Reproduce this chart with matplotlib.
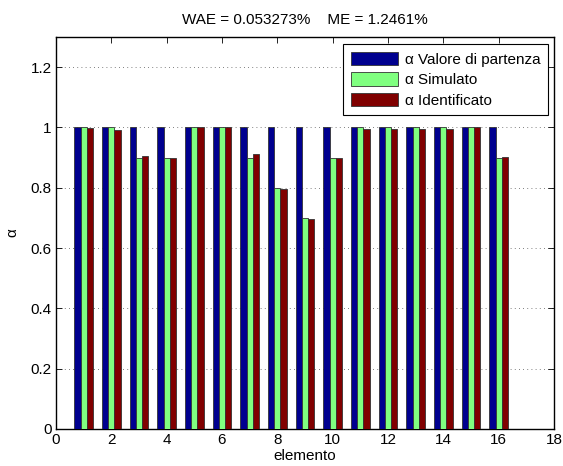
import numpy as np
import matplotlib
matplotlib.use('Agg')
import matplotlib.pyplot as plt

plt.rcParams['font.family'] = ['Liberation Sans', 'DejaVu Sans']
plt.rcParams['font.size'] = 11

# element index and alpha values for each series
elementi = np.arange(1, 17)
alpha_partenza = [1.0, 1.0, 1.0, 1.0, 1.0, 1.0, 1.0, 1.0,
                  1.0, 1.0, 1.0, 1.0, 1.0, 1.0, 1.0, 1.0]
alpha_simulato = [1.0, 1.0, 0.9, 0.9, 1.0, 1.0, 0.9, 0.8,
                  0.7, 0.9, 1.0, 1.0, 1.0, 1.0, 1.0, 0.9]
alpha_identificato = [0.997, 0.991, 0.907, 0.900, 1.0, 1.0, 0.912, 0.797,
                      0.695, 0.898, 0.994, 0.994, 0.995, 0.994, 1.0, 0.903]

serie = [
    (alpha_partenza, '#00008F', 'α Valore di partenza'),
    (alpha_simulato, '#80FF80', 'α Simulato'),
    (alpha_identificato, '#800000', 'α Identificato'),
]

fig = plt.figure(figsize=(5.63, 4.66), dpi=100)
ax = fig.add_axes([56 / 563, 1 - 429 / 466, (554 - 56) / 563, (429 - 37) / 466])

w = 0.222
for i, (vals, col, lab) in enumerate(serie):
    ax.bar(elementi + (i - 1) * w, vals, width=w, color=col,
           edgecolor='#333333', linewidth=0.6, label=lab, zorder=3)

ax.set_xlim(0, 18)
ax.set_ylim(0, 1.3)
ax.set_xticks(np.arange(0, 19, 2))
ax.set_yticks(np.arange(0, 1.21, 0.2))
ax.set_yticklabels(['0', '0.2', '0.4', '0.6', '0.8', '1', '1.2'])

ax.yaxis.grid(True, linestyle=(0, (1, 4)), color='#555555', linewidth=0.6)
ax.set_axisbelow(True)

ax.tick_params(direction='in', top=True, right=True, length=4, width=0.6,
               labelsize=11, pad=3)
for s in ax.spines.values():
    s.set_linewidth(1.0)

ax.set_xlabel('elemento', labelpad=1)
ax.set_ylabel('α', labelpad=8)
ax.set_title('WAE = 0.053273%    ME = 1.2461%', fontsize=11, pad=9)

leg = ax.legend(loc='upper right', bbox_to_anchor=(0.988, 0.982),
                fancybox=False, edgecolor='black', framealpha=1, fontsize=11,
                handlelength=3.1, handleheight=1.0, borderpad=0.5,
                labelspacing=0.35, handletextpad=0.45, borderaxespad=0)
leg.get_frame().set_linewidth(0.8)

fig.savefig('out.png', dpi=100)
